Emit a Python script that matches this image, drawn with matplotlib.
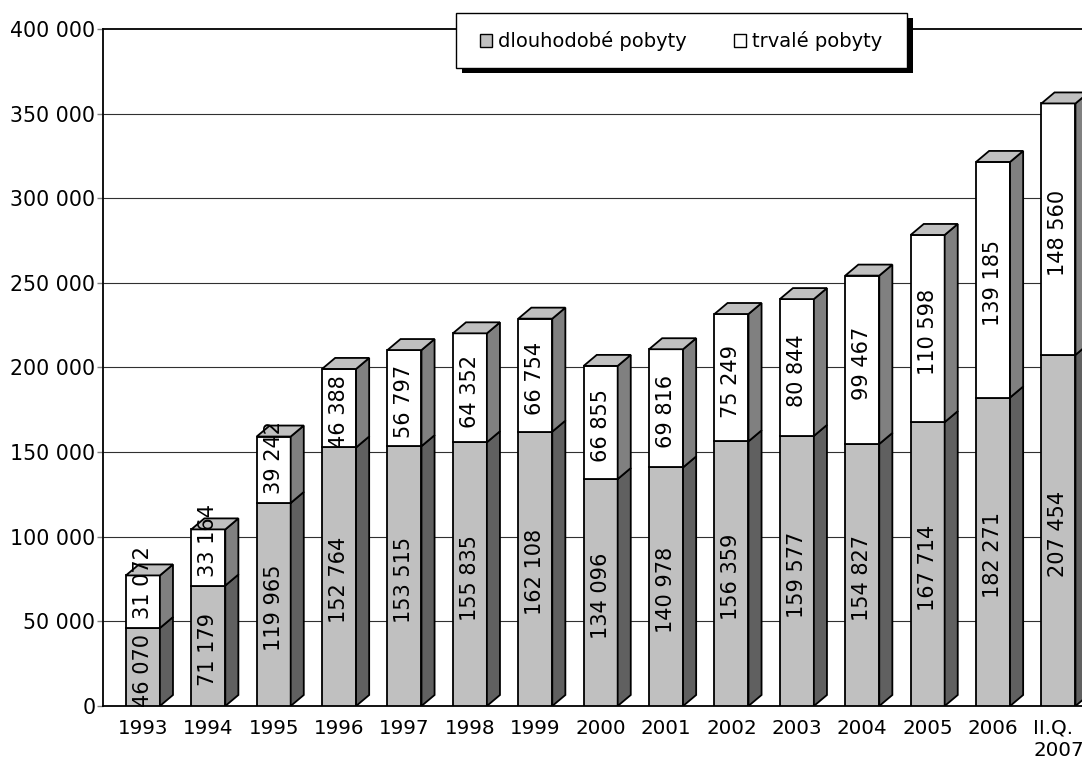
import matplotlib.pyplot as plt
from matplotlib.patches import Polygon, Patch, Rectangle
from matplotlib.ticker import FuncFormatter
import numpy as np

GREY = '#C0C0C0'
DARK = '#606060'
MID = '#808080'

years = ['1993', '1994', '1995', '1996', '1997', '1998', '1999', '2000',
         '2001', '2002', '2003', '2004', '2005', '2006', 'II.Q.\n2007']
dlouhodobe = [46070, 71179, 119965, 152764, 153515, 155835, 162108, 134096,
              140978, 156359, 159577, 154827, 167714, 182271, 207454]
trvale = [31072, 33164, 39242, 46388, 56797, 64352, 66754, 66855,
          69816, 75249, 80844, 99467, 110598, 139185, 148560]

plt.rcParams['font.family'] = 'DejaVu Sans'
fig = plt.figure(figsize=(10.82, 7.69), dpi=100)
ax = fig.add_axes([103/1082, 63/769, 1 - 103/1082, 677/769])

w = 0.52      # front face width
dx = 0.2      # depth offset in x
dy = 6500     # depth offset in y
lw = 1.3


def block(x, y0, h, front, side, top=None):
    ax.bar(x, h, bottom=y0, width=w, color=front, edgecolor='black',
           linewidth=lw, zorder=3)
    r = x + w / 2
    ax.add_patch(Polygon([(r, y0), (r + dx, y0 + dy), (r + dx, y0 + h + dy), (r, y0 + h)],
                         closed=True, facecolor=side, edgecolor='black', lw=lw, zorder=3))
    if top is not None:
        l = x - w / 2
        y1 = y0 + h
        ax.add_patch(Polygon([(l, y1), (l + dx, y1 + dy), (r + dx, y1 + dy), (r, y1)],
                             closed=True, facecolor=top, edgecolor='black', lw=lw, zorder=3))


def fmt(v):
    return f'{int(v):,}'.replace(',', ' ')


ax.set_xlim(-0.61, 14.36)
ax.set_ylim(0, 400000)

x = np.arange(len(years))
for i in x:
    block(i, 0, dlouhodobe[i], GREY, DARK)
for i in x:
    block(i, dlouhodobe[i], trvale[i], 'white', MID, GREY)

labels = []
for i in x:
    for y0, h in [(0, dlouhodobe[i]), (dlouhodobe[i], trvale[i])]:
        t = ax.text(i, y0 + h / 2, fmt(h), rotation=90,
                    ha='center', va='center', fontsize=15, zorder=5)
        labels.append((t, y0, h))

# labels longer than their segment sit near the segment bottom,
# the others are centred (a touch low, as in the original)
fig.canvas.draw()
rend = fig.canvas.get_renderer()
for t, y0, h in labels:
    ext = t.get_window_extent(rend)
    b = ax.transData.transform((0, y0))[1]
    top = ax.transData.transform((0, y0 + h))[1]
    cx, cy = ax.transData.transform(t.get_position())
    if ext.height > top - b:
        cy = b + 9 + ext.height / 2
    else:
        cy -= 3.5
    t.set_y(ax.transData.inverted().transform((cx, cy))[1])

ax.set_yticks(np.arange(0, 400001, 50000))
ax.yaxis.set_major_formatter(FuncFormatter(lambda v, p: fmt(v)))
ax.set_xticks(x)
ax.set_xticklabels(years)
ax.get_xticklabels()[-1].set_multialignment('left')
ax.tick_params(axis='x', length=0, pad=9, labelsize=14.3)
ax.tick_params(axis='y', length=4, color='#808080', width=1, pad=1.5, labelsize=14.8)

for v in np.arange(50000, 400000, 50000):
    ax.axhline(v, color='#303030', lw=0.8, zorder=1)
ax.axhline(400000, color='black', lw=1.3, zorder=1, clip_on=False)
ax.axhline(0, color='black', lw=1.3, zorder=2, clip_on=False)
for s in ['top', 'right', 'bottom']:
    ax.spines[s].set_visible(False)
ax.spines['left'].set_linewidth(1.3)

# legend box with hard black shadow
W, H = 1082, 769
fig.patches.append(Rectangle((462/W, 1 - 73/H), 451/W, 55/H, transform=fig.transFigure,
                             facecolor='black', edgecolor='none', zorder=8))
fig.patches.append(Rectangle((456/W, 1 - 68/H), 451/W, 55/H, transform=fig.transFigure,
                             facecolor='white', edgecolor='black', lw=1, zorder=9))
handles = [Patch(facecolor=GREY, edgecolor='black', lw=1),
           Patch(facecolor='white', edgecolor='black', lw=1)]
leg = fig.legend(handles, ['dlouhodobé pobyty', 'trvalé pobyty'], ncol=2,
                 loc='center', bbox_to_anchor=(681/W, 1 - 41/H),
                 fontsize=14, frameon=False,
                 handlelength=0.65, handleheight=0.65, handletextpad=0.3,
                 columnspacing=2.4, borderpad=0.85, borderaxespad=0)
leg.set_zorder(10)

fig.savefig('out.png', dpi=100)
